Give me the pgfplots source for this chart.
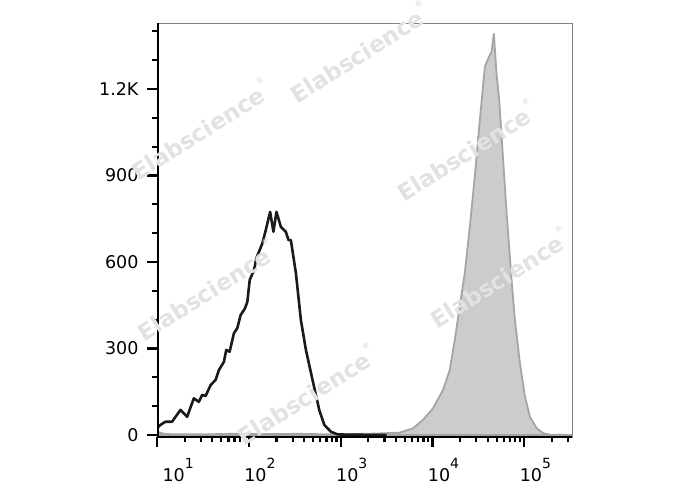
\documentclass[border=0pt]{standalone}
\usepackage{fontspec}
\setmainfont{DejaVu Sans}
\usepackage{pgfplots}
\pgfplotsset{compat=1.18}
\definecolor{fillgray}{RGB}{204,204,204}
\definecolor{edgegray}{RGB}{165,165,165}
\definecolor{boxgray}{RGB}{128,128,128}
\definecolor{wm}{RGB}{226,226,226}
\definecolor{curve}{RGB}{26,26,26}
\newcommand\sups[1]{\raisebox{13pt}{\fontsize{14}{14}\selectfont #1}}
\newcommand\wmark{Elabscience\raisebox{0.75em}{\fontsize{8}{8}\selectfont ®}}
\begin{document}
\begin{tikzpicture}
\useasboundingbox (0,0) rectangle (688pt,490pt);
\begin{axis}[
  at={(157pt,53pt)}, anchor=south west,
  scale only axis, width=415pt, height=414pt,
  xmin=1, xmax=5.52, ymin=-7, ymax=1429,
  axis line style={draw=boxgray, line width=0.8pt},
  tick align=outside, xtick pos=bottom, ytick pos=left,
  xtick={1,2,3,4,5},
  xticklabels={\hspace*{10pt}10\sups{1},10\sups{2},10\sups{3},10\sups{4},10\sups{5}},
  minor xtick={1.30103,1.47712,1.60206,1.69897,1.77815,1.84510,1.90309,1.95424,
               2.30103,2.47712,2.60206,2.69897,2.77815,2.84510,2.90309,2.95424,
               3.30103,3.47712,3.60206,3.69897,3.77815,3.84510,3.90309,3.95424,
               4.30103,4.47712,4.60206,4.69897,4.77815,4.84510,4.90309,4.95424,
               5.30103,5.47712},
  ytick={0,300,600,900,1200},
  yticklabels={0,300,600,900,1.2K},
  minor ytick={100,200,400,500,700,800,1000,1100,1300,1400},
  major tick length=10pt, minor tick length=5pt,
  every tick/.style={black, line width=2.2pt},
  tick label style={font=\fontsize{17.5}{20}\selectfont},
  xticklabel style={anchor=north west, xshift=-8pt, yshift=-8pt},
  yticklabel style={xshift=-5pt},
]
\addplot[fill=fillgray, draw=edgegray, line width=1.8pt] coordinates {
(1.0,12)(1.03,8)(1.1,3)(1.5,2)(1.8,4)(2.2,3)(2.55,4)(2.9,2)(3.13,3)(3.39,5)
(3.64,8)(3.787,23)(3.896,52)(4.005,92)(4.115,156)(4.188,225)(4.243,329)
(4.297,445)(4.352,561)(4.407,722)(4.461,896)(4.516,1092)(4.571,1277)
(4.607,1306)(4.644,1329)(4.669,1393)(4.698,1254)(4.727,1162)(4.770,954)
(4.808,769)(4.862,538)(4.898,399)(4.953,249)(5.008,133)(5.062,63)
(5.136,23)(5.208,6)(5.281,1)(5.52,0)
} \closedcycle;
\addplot[draw=curve, line width=2.6pt, line join=round] coordinates {
(1.000,23)(1.037,35)(1.092,46)(1.164,46)(1.256,87)(1.328,63)(1.401,127)
(1.456,115)(1.492,139)(1.529,135)(1.584,173)(1.638,191)(1.674,225)
(1.729,254)(1.754,295)(1.791,289)(1.838,353)(1.874,370)(1.911,416)
(1.958,439)(1.984,462)(2.010,538)(2.057,572)(2.082,613)(2.111,636)
(2.148,665)(2.185,711)(2.232,774)(2.268,705)(2.301,774)(2.349,722)
(2.403,705)(2.432,676)(2.458,676)(2.513,561)(2.567,399)(2.622,295)
(2.694,191)(2.767,87)(2.822,35)(2.895,11)(2.967,2)(3.095,1)(3.5,0)
};
\draw[black, line width=3pt] (rel axis cs:0,1) -- (rel axis cs:0,0) -- (rel axis cs:1,0);
\end{axis}
\begin{scope}[every node/.style={rotate=32, text=wm, font=\bfseries\fontsize{23}{23}\selectfont}]
\node at (359pt,438pt) {\wmark};
\node at (200pt,361pt) {\wmark};
\node at (466pt,340pt) {\wmark};
\node at (206pt,200pt) {\wmark};
\node at (499pt,213pt) {\wmark};
\node at (306pt,96pt) {\wmark};
\end{scope}
\end{tikzpicture}
\end{document}
